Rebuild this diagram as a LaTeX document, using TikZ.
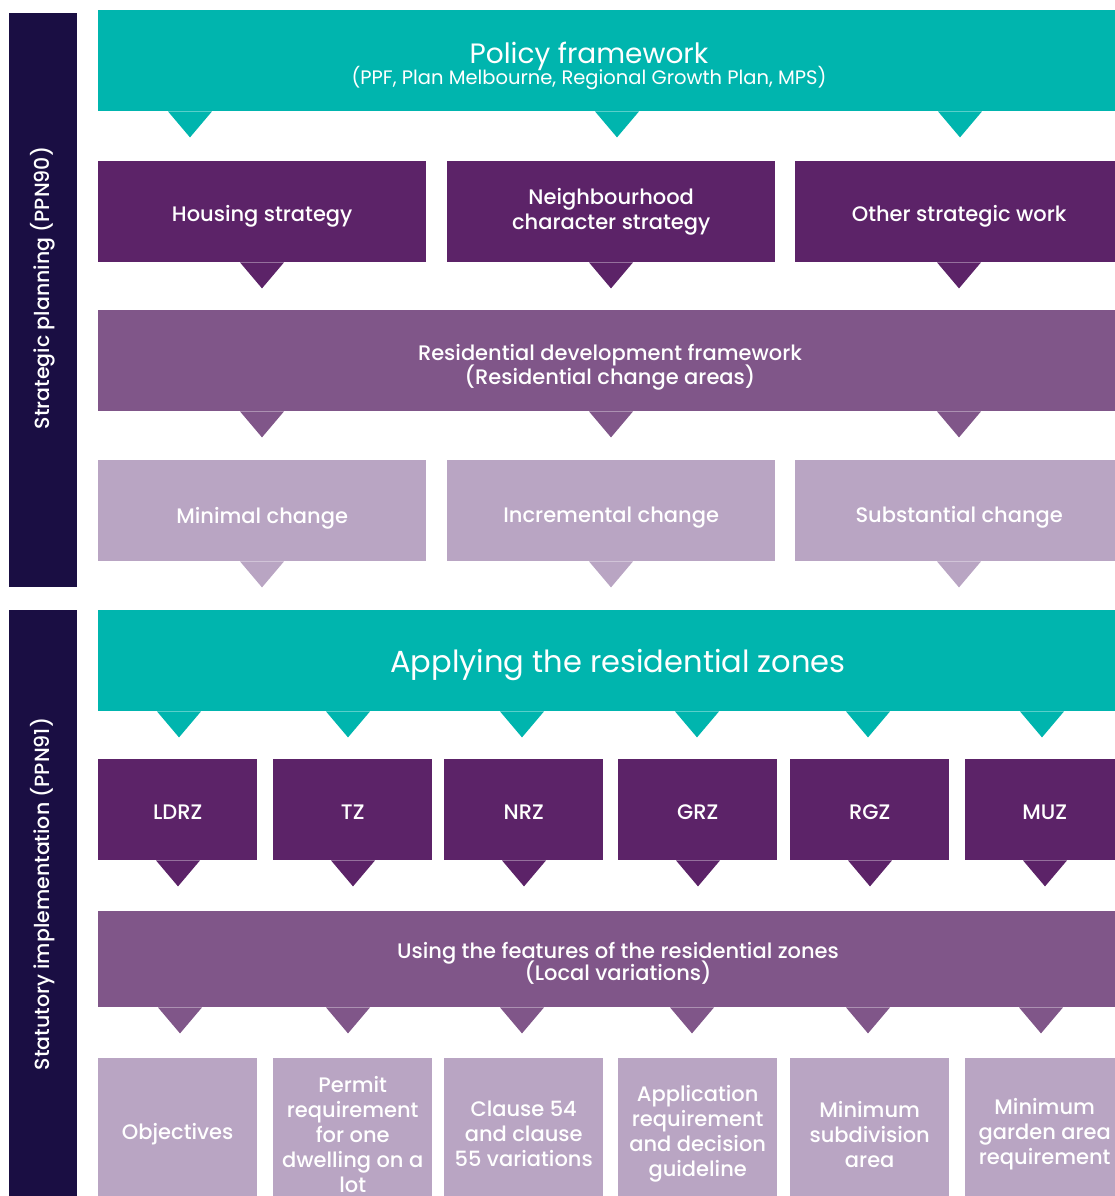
\documentclass[tikz,border=0pt]{standalone}
\usepackage{fontspec}
\setmainfont{Poppins}
\newfontfamily\pmed{Poppins Medium}
\definecolor{pteal}{HTML}{00B5AE}
\definecolor{pdark}{HTML}{5C2368}
\definecolor{pmid}{HTML}{805689}
\definecolor{plight}{HTML}{B9A5C3}
\definecolor{pnavy}{HTML}{1A0E43}
% downward pointer under a box: node, x position, colour
\newcommand\ptr[3]{\fill[#3] (#2,0 |- #1.south) +(-22,0) -- +(22,0) -- +(0,26) -- cycle;}
\begin{document}
\begin{tikzpicture}[x=1pt,y=-1pt,
  box/.style={rectangle, inner sep=0pt, anchor=north west, text=white, align=center,
    font=\pmed\fontsize{21}{25}\selectfont},
  wide/.style={box, minimum width=1026pt, minimum height=101pt},
  third/.style={box, minimum width=328pt, minimum height=101pt},
  sixth/.style={box, minimum width=159pt, minimum height=101pt},
  drop/.style={text height=#1, text depth=5pt},
  txt/.style={text=white, inner sep=0pt, anchor=base},
  side/.style={rectangle, inner sep=0pt, anchor=north west, fill=pnavy, minimum width=68pt},
  sidetxt/.style={text=white, inner sep=0pt, rotate=90, font=\pmed\fontsize{20.5}{24}\selectfont}]
\path[use as bounding box, clip] (0,0) rectangle (1115,1196);

% ---- section bars
\node[side, minimum height=574pt] (sp) at (9,13) {};
\node[sidetxt] (sp-t) at (43,288) {Strategic planning (PPN90)};
\node[side, minimum height=600pt] (si) at (9,610) {};
\node[sidetxt] (si-t) at (43,894) {Statutory implementation (PPN91)};

% ---- strategic planning
\node[wide, fill=pteal] (pf) at (98,10) {};
\node[txt, font=\fontsize{28}{28}\selectfont] (pf-t1) at (589,64) {Policy framework};
\node[txt, font=\fontsize{19.5}{20}\selectfont] (pf-t2) at (589,85) {(PPF, Plan Melbourne, Regional Growth Plan, MPS)};
\ptr{pf}{190}{pteal}\ptr{pf}{617}{pteal}\ptr{pf}{960}{pteal}

\node[third, fill=pdark, drop=24pt] (hs) at (98,161) {Housing strategy};
\node[third, fill=pdark] (nc) at (447,161) {\rule{0pt}{5pt}Neighbourhood\\character strategy};
\node[third, fill=pdark, drop=24pt] (os) at (795,161) {Other strategic work};
\ptr{hs}{262}{pdark}\ptr{nc}{611}{pdark}\ptr{os}{959}{pdark}

\node[wide, fill=pmid] (rdf) at (98,310) {};
\node[txt, font=\pmed\fontsize{21}{21}\selectfont] (rdf-t1) at (610,360) {Residential development framework};
\node[txt, font=\pmed\fontsize{21}{21}\selectfont] (rdf-t2) at (610,384) {(Residential change areas)};
\ptr{rdf}{262}{pmid}\ptr{rdf}{611}{pmid}\ptr{rdf}{959}{pmid}

\node[third, fill=plight, drop=30pt] (mc) at (98,460) {Minimal change};
\node[third, fill=plight, drop=28pt] (ic) at (447,460) {Incremental change};
\node[third, fill=plight, drop=28pt] (sc) at (795,460) {Substantial change};
\ptr{mc}{262}{plight}\ptr{ic}{611}{plight}\ptr{sc}{959}{plight}

% ---- statutory implementation
\node[wide, fill=pteal] (arz) at (98,610) {};
\node[txt, font=\fontsize{30.5}{30}\selectfont] (arz-t) at (618,672) {Applying the residential zones};
\ptr{arz}{179}{pteal}\ptr{arz}{348}{pteal}\ptr{arz}{522}{pteal}
\ptr{arz}{697}{pteal}\ptr{arz}{868}{pteal}\ptr{arz}{1042}{pteal}

\node[sixth, fill=pdark, drop=24pt] (ldrz) at (98,759) {LDRZ};
\node[sixth, fill=pdark, drop=24pt] (tz) at (273,759) {TZ};
\node[sixth, fill=pdark, drop=24pt] (nrz) at (444,759) {NRZ};
\node[sixth, fill=pdark, drop=24pt] (grz) at (618,759) {GRZ};
\node[sixth, fill=pdark, drop=24pt] (rgz) at (790,759) {RGZ};
\node[sixth, fill=pdark, drop=24pt] (muz) at (965,759) {MUZ};
\ptr{ldrz}{178}{pdark}\ptr{tz}{353}{pdark}\ptr{nrz}{524}{pdark}
\ptr{grz}{698}{pdark}\ptr{rgz}{870}{pdark}\ptr{muz}{1045}{pdark}

\node[box, fill=pmid, minimum width=1026pt, minimum height=96pt] (uf) at (98,911) {};
\node[txt, font=\pmed\fontsize{21}{21}\selectfont] (uf-t1) at (618,958) {Using the features of the residential zones};
\node[txt, font=\pmed\fontsize{21}{21}\selectfont] (uf-t2) at (618,980) {(Local variations)};
\ptr{uf}{180}{pmid}\ptr{uf}{348}{pmid}\ptr{uf}{522}{pmid}
\ptr{uf}{692}{pmid}\ptr{uf}{868}{pmid}\ptr{uf}{1041}{pmid}

\node[sixth, fill=plight, minimum height=152pt] (obj) at (98,1058) {Objectives};
\node[sixth, fill=plight, minimum height=152pt] (prm) at (273,1058) {Permit\\requirement\\for one\\dwelling on a\\lot};
\node[sixth, fill=plight, minimum height=152pt] (cls) at (444,1058) {Clause 54\\and clause\\55 variations};
\node[sixth, fill=plight, minimum height=152pt] (app) at (618,1058) {Application\\requirement\\and decision\\guideline};
\node[sixth, fill=plight, minimum height=152pt] (msa) at (790,1058) {Minimum\\subdivision\\area};
\node[sixth, fill=plight, minimum height=152pt] (mga) at (965,1058) {Minimum\\garden area\\requirement};
\end{tikzpicture}
\end{document}
